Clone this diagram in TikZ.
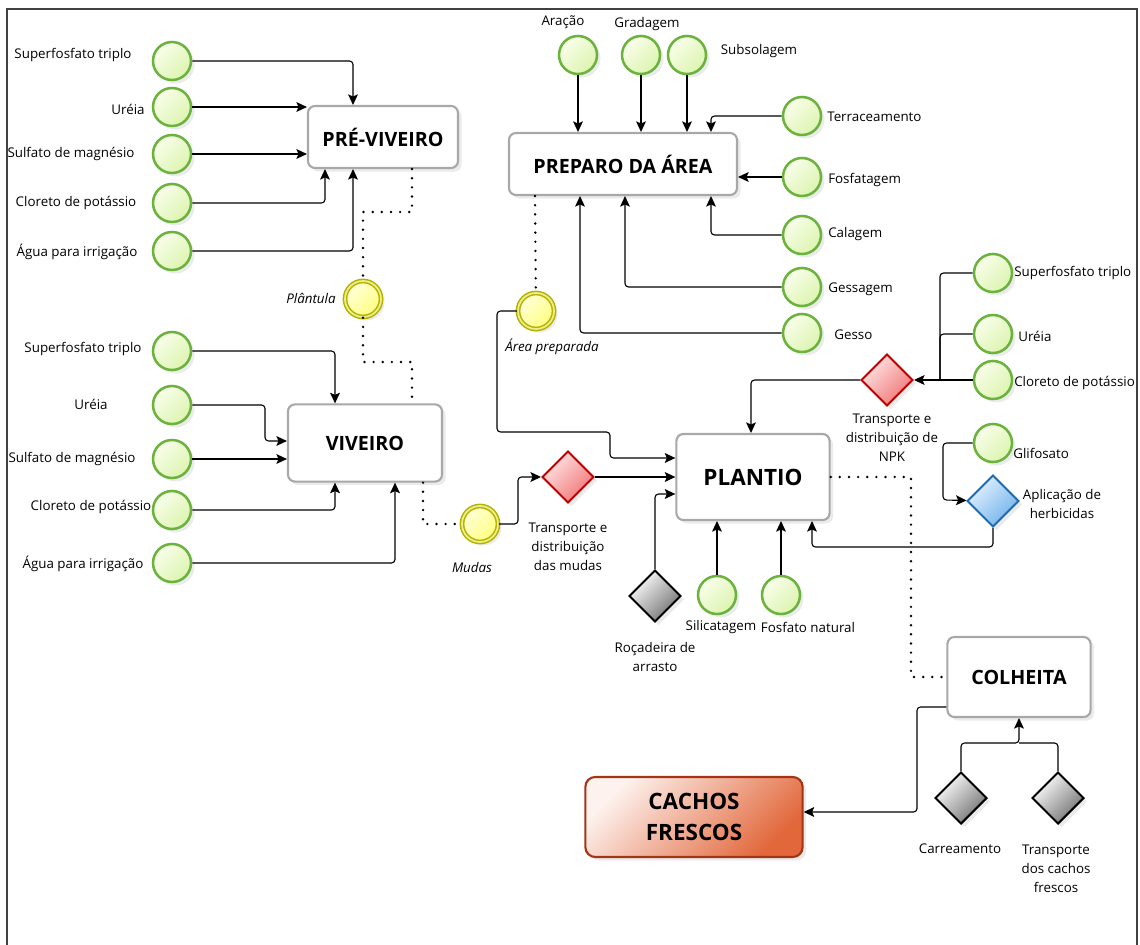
\documentclass[tikz,border=0pt]{standalone}
\usepackage{fontspec}
\setmainfont{Open Sans}
\usetikzlibrary{shapes.geometric,arrows.meta,shadows}

\definecolor{verdeborda}{HTML}{6CB33E}
\definecolor{verdeclaro}{HTML}{F8FEEA}
\definecolor{verdefundo}{HTML}{DDF4B0}
\definecolor{olivaborda}{HTML}{B4B400}
\definecolor{amarelobrd}{HTML}{EEEE90}
\definecolor{amareloclaro}{HTML}{FFFFD8}
\definecolor{amarelofundo}{HTML}{FFFF80}
\definecolor{vermelhoborda}{HTML}{C00000}
\definecolor{vermelhoclaro}{HTML}{FFE6E6}
\definecolor{vermelhofundo}{HTML}{F07575}
\definecolor{cinzafundo}{HTML}{707070}
\definecolor{azulborda}{HTML}{1F6AB0}
\definecolor{azulclaro}{HTML}{E4F2FF}
\definecolor{azulfundo}{HTML}{70B2EA}
\definecolor{cinzaborda}{HTML}{A8A8A8}
\definecolor{laranjaclaro}{HTML}{FDF2EE}
\definecolor{laranjafundo}{HTML}{E2673B}
\definecolor{laranjaborda}{HTML}{A33414}

\begin{document}
\begin{tikzpicture}[x=0.025cm, y=-0.025cm,
  sombra/.style={drop shadow={opacity=0.16, shadow xshift=2.5pt, shadow yshift=-2.5pt}},
  recurso/.style={circle, draw=verdeborda, line width=1.8pt, minimum size=0.95cm, inner sep=0pt,
    top color=verdeclaro, bottom color=verdefundo, shading angle=45, sombra},
  evento/.style={circle, draw=olivaborda, line width=1.1pt, double=amarelobrd, double distance=1.2pt,
    minimum size=0.9cm, inner sep=0pt, top color=amareloclaro, bottom color=amarelofundo, shading angle=45, sombra},
  porta/.style={diamond, aspect=1, minimum size=1.3cm, inner sep=0pt, line width=1.4pt, sombra},
  portavermelha/.style={porta, draw=vermelhoborda, top color=vermelhoclaro, bottom color=vermelhofundo, shading angle=45},
  portacinza/.style={porta, draw=black, top color=white, bottom color=cinzafundo, shading angle=45},
  portaazul/.style={porta, draw=azulborda, top color=azulclaro, bottom color=azulfundo, shading angle=45},
  tarefa/.style={rectangle, rounded corners=5pt, draw=cinzaborda, line width=1.5pt, fill=white,
    font=\fontsize{14}{17}\selectfont\bfseries, sombra},
  rotulo/.style={font=\fontsize{9.5}{13.5}\selectfont, inner sep=0pt, align=center},
  rotuloit/.style={rotulo, font=\fontsize{9.5}{13.5}\selectfont\itshape},
  seta/.style={-{Stealth[length=7.5pt, width=7pt, inset=1.5pt]}, line width=0.8pt, rounded corners=2.5pt},
  liga/.style={line width=0.8pt, rounded corners=2.5pt},
  fluxo/.style={line width=1.9pt, line cap=round, dash pattern=on 0pt off 6.5pt}]

\useasboundingbox (0,0) rectangle (1140,945);
\draw[line width=1.5pt, black!75] (7,945) -- (7,9) -- (1137,9) -- (1137,945);

% pre-viveiro
\node[tarefa, minimum width=3.75cm, minimum height=1.55cm] (pv) at (383,137) {PRÉ-VIVEIRO};
\node[recurso] (pv1) at (172,61) {};
\node[recurso] (pv2) at (172,107) {};
\node[recurso] (pv3) at (172,154) {};
\node[recurso] (pv4) at (172,203) {};
\node[recurso] (pv5) at (172,251) {};
\node[rotulo] (pv1l) at (73,55) {Superfosfato triplo};
\node[rotulo] (pv2l) at (128,109) {Uréia};
\node[rotulo] (pv3l) at (71,154) {Sulfato de magnésio};
\node[rotulo] (pv4l) at (76,203) {Cloreto de potássio};
\node[rotulo] (pv5l) at (77,252) {Água para irrigação};
\draw[seta] (pv1) -| (353,0 |- pv.north);
\draw[seta] (pv2) -- (pv2 -| pv.west);
\draw[seta] (pv3) -- (pv3 -| pv.west);
\draw[seta] (pv4) -| (325,0 |- pv.south);
\draw[seta] (pv5) -| (353,0 |- pv.south);

\node[evento] (plant) at (363,299) {};
\node[rotuloit] (plantl) at (311,298) {Plântula};
\draw[fluxo] (412,0 |- pv.south) -- (412,212) -| (plant);

% viveiro
\node[tarefa, minimum width=3.85cm, minimum height=1.93cm] (vv) at (365,443) {VIVEIRO};
\node[recurso] (vv1) at (172,351) {};
\node[recurso] (vv2) at (172,405) {};
\node[recurso] (vv3) at (172,459) {};
\node[recurso] (vv4) at (172,510) {};
\node[recurso] (vv5) at (172,563) {};
\node[rotulo] (vv1l) at (83,349) {Superfosfato triplo};
\node[rotulo] (vv2l) at (91,404) {Uréia};
\node[rotulo] (vv3l) at (72,459) {Sulfato de magnésio};
\node[rotulo] (vv4l) at (91,507) {Cloreto de potássio};
\node[rotulo] (vv5l) at (83,564) {Água para irrigação};
\draw[seta] (vv1) -| (335,0 |- vv.north);
\draw[seta] (vv2) -| (265,441) -- (vv.west |- 0,441);
\draw[seta] (vv3) -- (vv3 -| vv.west);
\draw[seta] (vv4) -| (335,0 |- vv.south);
\draw[seta] (vv5) -| (395,0 |- vv.south);
\draw[fluxo] (plant) |- (412,362) -- (412,0 |- vv.north);

\node[evento] (mudas) at (480,524) {};
\node[rotuloit] (mudasl) at (472,567) {Mudas};
\draw[fluxo] (423,0 |- vv.south) |- (mudas);

% preparo da area
\node[tarefa, minimum width=5.7cm, minimum height=1.55cm] (pa) at (623,164) {PREPARO DA ÁREA};
\node[recurso] (ar) at (578,55) {};
\node[recurso] (gr) at (641,55) {};
\node[recurso] (sub) at (687,55) {};
\node[recurso] (ter) at (802,116) {};
\node[recurso] (fosf) at (802,177) {};
\node[recurso] (cal) at (802,235) {};
\node[recurso] (ges) at (802,287) {};
\node[recurso] (gesso) at (802,333) {};
\node[rotulo] (arl) at (563,22) {Aração};
\node[rotulo] (grl) at (647,24) {Gradagem};
\node[rotulo] (subl) at (759,51) {Subsolagem};
\node[rotulo, anchor=west] (terl) at (827,117) {Terraceamento};
\node[rotulo, anchor=west] (fosfl) at (828,180) {Fosfatagem};
\node[rotulo, anchor=west] (call) at (828,234) {Calagem};
\node[rotulo, anchor=west] (gesl) at (828,289) {Gessagem};
\node[rotulo, anchor=west] (gessol) at (834,335) {Gesso};
\draw[seta] (ar) -- (ar |- pa.north);
\draw[seta] (gr) -- (gr |- pa.north);
\draw[seta] (sub) -- (sub |- pa.north);
\draw[seta] (ter) -| (711,0 |- pa.north);
\draw[seta] (fosf) -- (fosf -| pa.east);
\draw[seta] (cal) -| (711,0 |- pa.south);
\draw[seta] (ges) -| (625,0 |- pa.south);
\draw[seta] (gesso) -| (580,0 |- pa.south);

\node[evento] (area) at (536,311) {};
\node[rotuloit] (areal) at (552,347) {Área preparada};
\draw[fluxo] (535,0 |- pa.south) -- (area);

% plantio
\node[tarefa, minimum width=3.83cm, minimum height=2.15cm, font=\fontsize{16}{19}\selectfont\bfseries] (pl) at (753,477) {PLANTIO};
\draw[seta] (area) -| (497,432) -| (610,458) -- (pl.west |- 0,458);

\node[portavermelha] (td) at (568,477) {};
\node[rotulo] (tdl) at (568,547) {Transporte e\\distribuição\\das mudas};
\draw[seta] (mudas) -- (518,524) |- (td);
\draw[seta] (td) -- (td -| pl.west);

\node[portacinza] (roc) at (655,596) {};
\node[rotulo] (rocl) at (655,657) {Roçadeira de\\arrasto};
\draw[seta] (roc) |- (pl.west |- 0,494);

\node[recurso] (sil) at (717,595) {};
\node[recurso] (fos) at (781,595) {};
\node[rotulo] (sill) at (721,627) {Silicatagem};
\node[rotulo] (fosl) at (808,627) {Fosfato natural};
\draw[seta] (sil) -- (sil |- pl.south);
\draw[seta] (fos) -- (fos |- pl.south);

\node[portavermelha] (npk) at (887,380) {};
\node[rotulo] (npkl) at (892,438) {Transporte e\\distribuição de\\NPK};
\draw[seta] (npk) -| (751,0 |- pl.north);
\node[recurso] (n1) at (993,273) {};
\node[recurso] (n2) at (993,334) {};
\node[recurso] (n3) at (993,380) {};
\node[rotulo, anchor=west] (n1l) at (1014,273) {Superfosfato triplo};
\node[rotulo, anchor=west] (n2l) at (1018,336) {Uréia};
\node[rotulo, anchor=west] (n3l) at (1014,383) {Cloreto de potássio};
\draw[liga] (n1) -| (940,380);
\draw[liga] (n2) -| (940,380);
\draw[seta] (n3) -- (npk);

\node[recurso] (gli) at (993,443) {};
\node[rotulo, anchor=west] (glil) at (1013,453) {Glifosato};
\node[portaazul] (herb) at (993,501) {};
\node[rotulo] (herbl) at (1062,504) {Aplicação de\\herbicidas};
\draw[seta] (gli) -| (943,500) -- (herb);
\draw[seta] (herb) |- (812,547) -- (812,0 |- pl.south);

% colheita
\node[tarefa, minimum width=3.58cm, minimum height=2cm] (col) at (1019,677) {COLHEITA};
\draw[fluxo] (pl) -| (911,677) -- (col);
\node[portacinza] (car) at (961,798) {};
\node[portacinza] (tcf) at (1058,798) {};
\node[rotulo] (carl) at (960,849) {Carreamento};
\node[rotulo] (tcfl) at (1056,869) {Transporte\\dos cachos\\frescos};
\draw[seta] (car) |- (1019,743) -- (1019,0 |- col.south);
\draw[liga] (tcf) |- (1019,743);

\node[rectangle, rounded corners=7pt, draw=laranjaborda, line width=1.5pt, top color=laranjaclaro,
  bottom color=laranjafundo, shading angle=45, sombra, minimum width=5.43cm, minimum height=2cm, align=center,
  font=\fontsize{16}{22}\selectfont\bfseries] (cachos) at (694,817) {CACHOS\\FRESCOS};
\draw[seta] (col.west |- 0,707) -| (917,812) -- (cachos.east |- 0,812);
\end{tikzpicture}
\end{document}
